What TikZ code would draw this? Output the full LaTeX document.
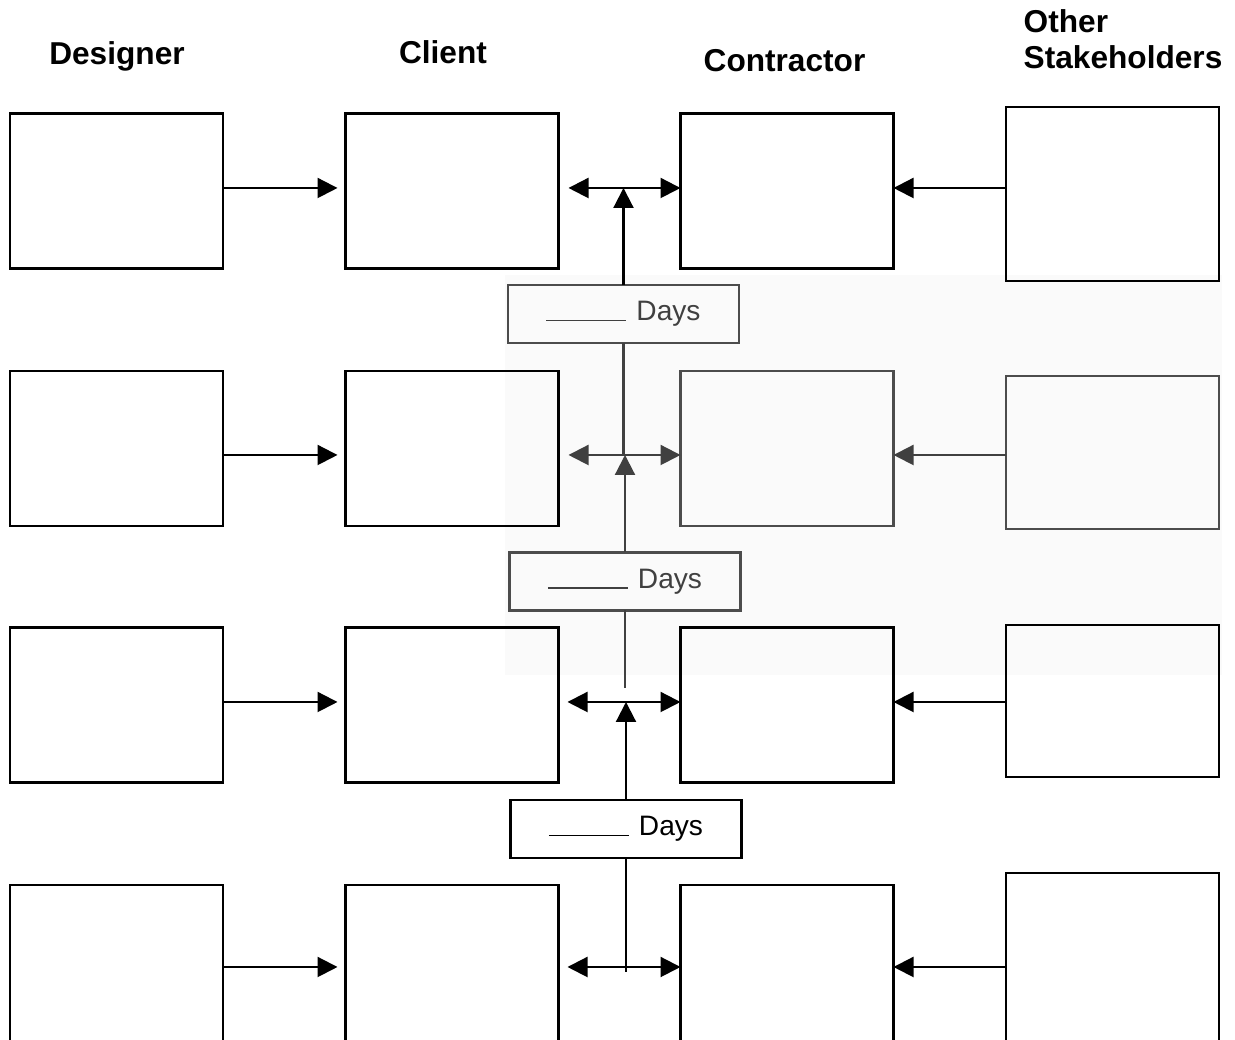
\documentclass[tikz,border=0pt]{standalone}
\usepackage{fontspec}
\setmainfont{Liberation Sans}
\usetikzlibrary{arrows.meta}
\tikzset{
  box/.style={draw, line width=0.8pt, minimum width=2.13cm, minimum height=1.55cm, inner sep=0pt, outer sep=0pt},
  daysbox/.style={draw, line width=0.7pt, minimum width=2.31cm, minimum height=0.58cm, inner sep=0pt, outer sep=0pt, font=\fontsize{8}{9.6}\selectfont},
  head/.style={font=\fontsize{9}{10.2}\selectfont\bfseries, inner sep=0pt},
  arr/.style={line width=0.6pt, -{Triangle[length=2mm,width=2mm]}},
  dblarr/.style={line width=0.6pt, {Triangle[length=2mm,width=2mm]}-{Triangle[length=2mm,width=2mm]}},
  faded/.style={draw=black!70, text=black!75}
}
\newcommand{\blankdays}{\rule[-0.2pt]{0.8cm}{0.5pt}\hspace{0.1cm}Days}

\begin{document}
\begin{tikzpicture}
\useasboundingbox (0,0) rectangle (12.35,10.40);
\def\dx{1.165}
\def\cx{4.52}
\def\kx{7.87}
\def\ox{11.125}

% light patch of the scan
\fill[black!2] (5.05,3.65) rectangle (12.22,7.65);

% column heads
\node[head, anchor=base] (hdes) at (1.17,9.75) {Designer};
\node[head, anchor=base] (hcli) at (4.43,9.76) {Client};
\node[head, anchor=base] (hcon) at (7.845,9.68) {Contractor};
\node[head, anchor=north west, align=left] (hoth) at (10.23,10.31) {Other\\Stakeholders};

% arrow levels
\coordinate (r1) at (0,8.52);
\coordinate (r2) at (0,5.85);
\coordinate (r3) at (0,3.38);
\coordinate (r4) at (0,0.73);

% row 1
\node[box] (des1) at (\dx,8.49) {};
\node[box] (cli1) at (\cx,8.49) {};
\node[box] (con1) at (\kx,8.49) {};
\node[box, minimum height=1.74cm] (oth1) at (\ox,8.46) {};

% row 2
\node[box] (des2) at (\dx,5.915) {};
\node[box] (cli2) at (\cx,5.915) {};
\node[box, faded] (con2) at (\kx,5.915) {};
\node[box, faded, minimum height=1.53cm] (oth2) at (\ox,5.875) {};

% row 3
\node[box] (des3) at (\dx,3.35) {};
\node[box] (cli3) at (\cx,3.35) {};
\node[box] (con3) at (\kx,3.35) {};
\node[box, minimum height=1.52cm] (oth3) at (\ox,3.39) {};

% row 4 (runs off the bottom)
\node[box, minimum height=1.65cm] (des4) at (\dx,0.725) {};
\node[box, minimum height=1.65cm] (cli4) at (\cx,0.725) {};
\node[box, minimum height=1.65cm] (con4) at (\kx,0.725) {};
\node[box, minimum height=1.77cm] (oth4) at (\ox,0.785) {};

% day boxes
\node[daysbox, faded] (days1) at (6.235,7.26) {\blankdays};
\node[daysbox, faded] (days2) at (6.25,4.585) {\blankdays};
\node[daysbox] (days3) at (6.26,2.11) {\blankdays};

% horizontal links
\draw[arr] (des1.east |- r1) -- ([xshift=-0.08cm]cli1.west |- r1);
\draw[arr] (oth1.west |- r1) -- (con1.east |- r1);
\draw[dblarr] ([xshift=0.1cm]cli1.east |- r1) -- (con1.west |- r1);

\draw[arr] (des2.east |- r2) -- ([xshift=-0.08cm]cli2.west |- r2);
\draw[arr, black!75] (oth2.west |- r2) -- (con2.east |- r2);
\draw[dblarr, black!75] ([xshift=0.1cm]cli2.east |- r2) -- (con2.west |- r2);

\draw[arr] (des3.east |- r3) -- ([xshift=-0.08cm]cli3.west |- r3);
\draw[arr] (oth3.west |- r3) -- (con3.east |- r3);
\draw[dblarr] ([xshift=0.09cm]cli3.east |- r3) -- (con3.west |- r3);

\draw[arr] (des4.east |- r4) -- ([xshift=-0.08cm]cli4.west |- r4);
\draw[arr] (oth4.west |- r4) -- (con4.east |- r4);
\draw[dblarr] ([xshift=0.09cm]cli4.east |- r4) -- (con4.west |- r4);

% vertical links through the day boxes
\draw[arr] (days1.north) -- (days1.north |- r1);
\draw[line width=0.6pt, black!75] (days1.south) -- (days1.south |- r2);
\draw[arr, black!75] (days2.north) -- (days2.north |- r2);
\draw[line width=0.6pt, black!75] (days2.south) -- ([yshift=0.14cm]days2.south |- r3);
\draw[arr] (days3.north) -- (days3.north |- r3);
\draw[line width=0.6pt] (days3.south) -- ([yshift=-0.05cm]days3.south |- r4);
\end{tikzpicture}
\end{document}
